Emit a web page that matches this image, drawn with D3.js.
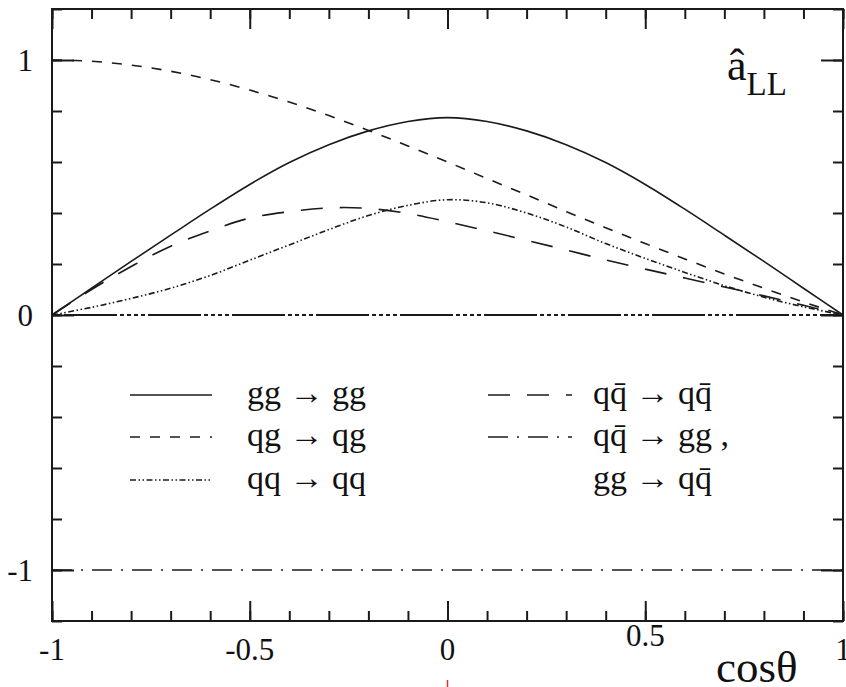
<!DOCTYPE html>
<html>
<head>
<meta charset="utf-8">
<script src="https://cdn.jsdelivr.net/npm/d3@7"></script>
<style>
  body { margin: 0; background: #fff; }
  svg { display: block; }
  text { font-family: "Liberation Serif", "DejaVu Serif", serif; fill: #111; }
</style>
</head>
<body>
<svg id="chart"></svg>
<script>
// cos(theta) grid the curves were read at
var cosTheta = [-1, -0.9, -0.8, -0.7, -0.6, -0.5, -0.4, -0.3, -0.2, -0.1, 0,
                0.1, 0.2, 0.3, 0.4, 0.5, 0.6, 0.7, 0.8, 0.9, 1];

// values
var ggToGg   = [0, 0.105, 0.21, 0.313, 0.415, 0.512, 0.598, 0.668, 0.722, 0.759, 0.774,
                0.759, 0.722, 0.668, 0.598, 0.512, 0.415, 0.313, 0.21, 0.105, 0];
var qgToQg   = [1, 0.995, 0.98, 0.956, 0.923, 0.882, 0.835, 0.782, 0.724, 0.663, 0.6,
                0.535, 0.471, 0.406, 0.342, 0.28, 0.22, 0.161, 0.105, 0.051, 0];
var qqToQq   = [0, 0.03, 0.065, 0.105, 0.155, 0.215, 0.275, 0.335, 0.39, 0.43, 0.452,
                0.44, 0.40, 0.345, 0.28, 0.222, 0.167, 0.115, 0.07, 0.032, 0];
var qqbToQqb = [0, 0.1, 0.19, 0.27, 0.33, 0.38, 0.405, 0.42, 0.418, 0.398, 0.366,
                0.33, 0.293, 0.255, 0.216, 0.18, 0.145, 0.11, 0.075, 0.038, 0];
var qqbToGg  = [-1, -1, -1, -1, -1, -1, -1, -1, -1, -1, -1,
                -1, -1, -1, -1, -1, -1, -1, -1, -1, -1];

var xTickLabels = ["-1", "-0.5", "0", "0.5", "1"];
var yTickLabels = ["1", "0", "-1"];

var width = 846, height = 687;
var plotLeft = 52, plotRight = 843, plotTop = 9, plotBottom = 621;

var svg = d3.select("#chart").attr("width", width).attr("height", height);

var x = d3.scaleLinear().domain([-1, 1]).range([plotLeft, plotRight]);
var y = d3.scaleLinear().domain([-1.2, 1.2]).range([plotBottom, plotTop]);

var ink = "#1a1a1a";

// ticks (minor + major) on all four sides, pointing inward
var xMinor = d3.range(-10, 11).map(function(i) { return i / 10; });
var xMajor = [-1, -0.5, 0, 0.5, 1];
var yMinor = d3.range(-6, 7).map(function(i) { return i / 5; });
var yMajor = [-1, 0, 1];

function drawAxis(axis, tx, ty) {
  var g = svg.append("g").attr("transform", "translate(" + tx + "," + ty + ")").call(axis);
  g.select(".domain").remove();
  g.selectAll("line").attr("stroke", ink).attr("stroke-width", 2);
  g.selectAll("text").remove();
}

drawAxis(d3.axisTop(x).tickValues(xMinor).tickSize(-10), 0, plotTop);
drawAxis(d3.axisTop(x).tickValues(xMajor).tickSize(-20), 0, plotTop);
drawAxis(d3.axisBottom(x).tickValues(xMinor).tickSize(-10), 0, plotBottom);
drawAxis(d3.axisBottom(x).tickValues(xMajor).tickSize(-20), 0, plotBottom);
drawAxis(d3.axisLeft(y).tickValues(yMinor).tickSize(-10), plotLeft, 0);
drawAxis(d3.axisLeft(y).tickValues(yMajor).tickSize(-22), plotLeft, 0);
drawAxis(d3.axisRight(y).tickValues(yMinor).tickSize(-10), plotRight, 0);
drawAxis(d3.axisRight(y).tickValues(yMajor).tickSize(-22), plotRight, 0);

// frame
svg.append("rect")
    .attr("x", plotLeft).attr("y", plotTop)
    .attr("width", plotRight - plotLeft).attr("height", plotBottom - plotTop)
    .attr("fill", "none").attr("stroke", ink).attr("stroke-width", 2);

// zero line
svg.append("line")
    .attr("x1", x(-1)).attr("x2", x(1))
    .attr("y1", y(0)).attr("y2", y(0))
    .attr("stroke", ink).attr("stroke-width", 2)
    .attr("stroke-dasharray", "53 3 4 3 4 3 4 3 4 3")
    .attr("stroke-dashoffset", -12);

var line = d3.line()
    .x(function(d) { return x(d[0]); })
    .y(function(d) { return y(d[1]); })
    .curve(d3.curveCatmullRom.alpha(0.5));

var series = [
  { values: ggToGg,   dash: null },
  { values: qgToQg,   dash: "10 10" },
  { values: qqToQq,   dash: "6 2.5 1.5 2.5 1.5 2.5" },
  { values: qqbToQqb, dash: "22 17" },
  { values: qqbToGg,  dash: "20 9 2 9" }
];

series.forEach(function(s) {
  svg.append("path")
      .datum(d3.zip(cosTheta, s.values))
      .attr("d", line)
      .attr("fill", "none")
      .attr("stroke", ink)
      .attr("stroke-width", 1.6)
      .attr("stroke-dasharray", s.dash);
});

// tick labels
var xLabelY = [660, 660, 660, 646, 660];
svg.selectAll(".xlab")
    .data(xTickLabels)
  .enter().append("text")
    .attr("x", function(d) { return x(+d); })
    .attr("y", function(d, i) { return xLabelY[i]; })
    .attr("text-anchor", "middle")
    .style("font-size", "31px")
    .text(function(d) { return d; });

svg.selectAll(".ylab")
    .data(yTickLabels)
  .enter().append("text")
    .attr("x", 33)
    .attr("y", function(d) { return y(+d) + 11; })
    .attr("text-anchor", "end")
    .style("font-size", "31px")
    .text(function(d) { return d; });

// axis title and curve label
svg.append("text")
    .attr("x", 716).attr("y", 682)
    .style("font-size", "45px")
    .text("cosθ");

var lab = svg.append("text").attr("x", 727).attr("y", 80);
lab.append("tspan").style("font-size", "44px").text("â");
lab.append("tspan").attr("dy", 15).style("font-size", "33px").text("LL");

// legend
var legendSeries = [
  { col: 0, row: 0, dash: null, label: "gg → gg" },
  { col: 0, row: 1, dash: "10 10", label: "qg → qg" },
  { col: 0, row: 2, dash: "6 2.5 1.5 2.5 1.5 2.5", label: "qq → qq" },
  { col: 1, row: 0, dash: "22 17", label: "qq̄ → qq̄" },
  { col: 1, row: 1, dash: "20 9 2 9", label: "qq̄ → gg ," },
  { col: 1, row: 2, dash: "none", label: "gg → qq̄" }
];
var colLine = [[130, 212], [488, 572]];
var colText = [247, 593];
var rowY = [395, 437, 480];

legendSeries.forEach(function(d) {
  if (d.dash !== "none") {
    svg.append("line")
        .attr("x1", colLine[d.col][0]).attr("x2", colLine[d.col][1])
        .attr("y1", rowY[d.row]).attr("y2", rowY[d.row])
        .attr("stroke", ink).attr("stroke-width", 1.6)
        .attr("stroke-dasharray", d.dash);
  }
  svg.append("text")
      .attr("x", colText[d.col]).attr("y", rowY[d.row] + 9)
      .style("font-size", "34px")
      .text(d.label);
});

// small red mark under the axis
svg.append("line")
    .attr("x1", x(0)).attr("x2", x(0))
    .attr("y1", 680).attr("y2", 687)
    .attr("stroke", "#e03030").attr("stroke-width", 1.5);
</script>
</body>
</html>
